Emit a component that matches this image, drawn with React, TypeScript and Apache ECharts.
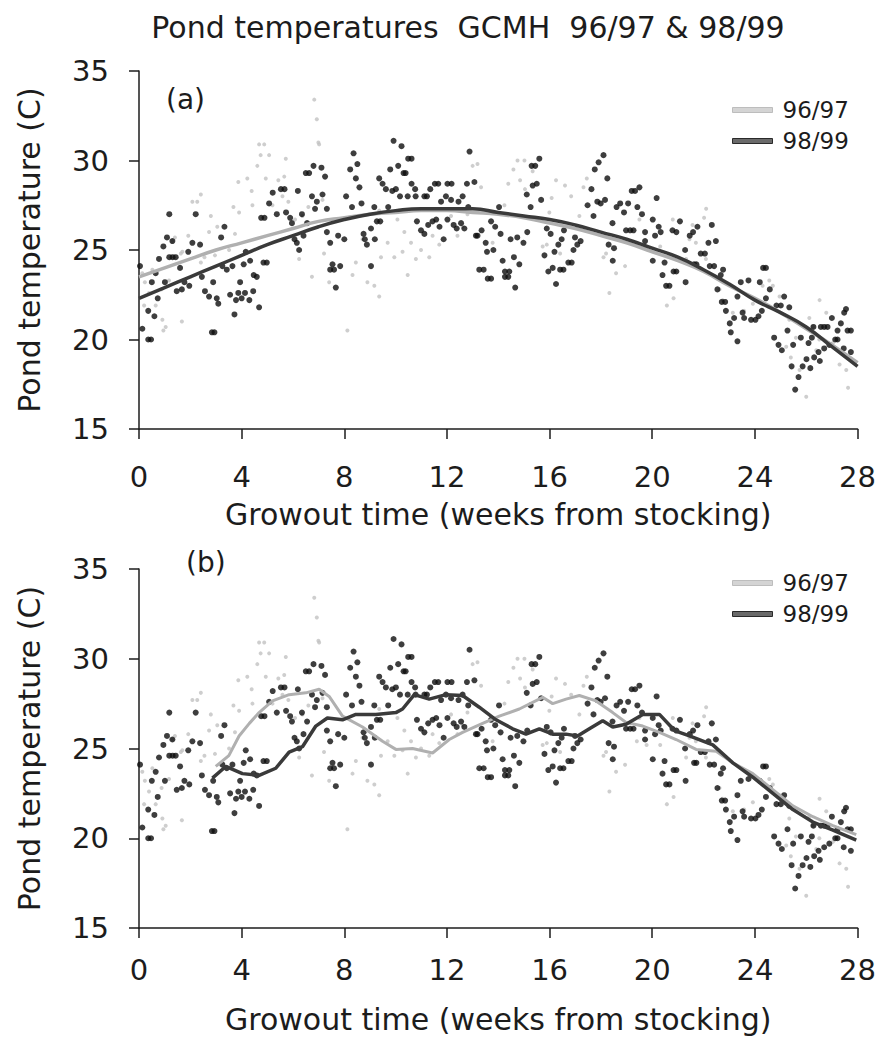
import React, { useEffect, useRef } from "react";
import * as echarts from "echarts";

const FONT = '"DejaVu Sans", sans-serif';
const INK = "#1c1c1c";

// Axis ticks
const weekTicks = [0, 4, 8, 12, 16, 20, 24, 28];
const tempTicks = [15, 20, 25, 30, 35];

// Daily observations, 98/99 season: [week, temperature °C]
const obs9899: [number, number][] = [
  [0.04, 24.1], [0.13, 20.6], [0.36, 21.6], [0.36, 20.0], [0.47, 20.0], [0.5, 23.2], [0.6, 21.3], [0.65, 23.7],
  [0.73, 22.3], [0.78, 24.5], [0.95, 25.2], [1.01, 23.2], [1.09, 25.7], [1.18, 27.0], [1.18, 24.6], [1.3, 25.5],
  [1.31, 24.6], [1.43, 24.6], [1.47, 22.7], [1.6, 24.0], [1.67, 22.8], [1.77, 23.2], [1.92, 24.9], [1.96, 23.0],
  [2.08, 25.4], [2.21, 27.0], [2.38, 25.3], [2.45, 23.5], [2.57, 22.7], [2.73, 22.4], [2.84, 20.4], [2.89, 23.2],
  [2.94, 20.4], [3.03, 22.3], [3.09, 22.0], [3.2, 25.7], [3.25, 24.1], [3.33, 26.3], [3.42, 23.9], [3.55, 22.5],
  [3.64, 24.1], [3.72, 21.4], [3.78, 22.2], [3.87, 22.6], [3.94, 23.2], [4.0, 22.3], [4.08, 24.2], [4.13, 22.6],
  [4.16, 24.9], [4.3, 22.2], [4.33, 24.4], [4.45, 22.7], [4.47, 23.6], [4.59, 23.5], [4.68, 21.8], [4.76, 26.8],
  [4.85, 24.3], [4.89, 26.8], [4.98, 24.3], [5.07, 27.6], [5.21, 28.2], [5.37, 27.0], [5.53, 28.4], [5.67, 28.4],
  [5.73, 27.1], [5.89, 26.8], [5.96, 26.5], [6.06, 25.6], [6.15, 25.4], [6.19, 28.3], [6.24, 25.0], [6.35, 27.0],
  [6.41, 25.8], [6.5, 29.3], [6.55, 26.5], [6.63, 29.3], [6.74, 28.0], [6.8, 29.7], [6.86, 27.3], [6.93, 27.7],
  [7.11, 29.6], [7.15, 28.1], [7.25, 29.1], [7.32, 27.3], [7.32, 26.0], [7.45, 25.4], [7.45, 23.9], [7.54, 24.2],
  [7.6, 23.9], [7.67, 22.9], [7.76, 25.8], [7.84, 24.1], [8.0, 25.6], [8.07, 28.0], [8.23, 29.5], [8.3, 27.4],
  [8.36, 30.4], [8.45, 29.0], [8.51, 29.8], [8.59, 28.5], [8.67, 27.6], [8.75, 25.9], [8.8, 25.6], [8.88, 25.3],
  [9.04, 26.2], [9.04, 24.1], [9.17, 27.4], [9.19, 25.6], [9.27, 26.6], [9.36, 29.0], [9.4, 26.6], [9.49, 28.7],
  [9.62, 28.4], [9.71, 27.4], [9.79, 29.5], [9.87, 28.3], [9.92, 31.1], [10.01, 28.4], [10.1, 29.7], [10.17, 28.0],
  [10.23, 30.8], [10.31, 29.3], [10.39, 29.3], [10.47, 28.0], [10.49, 30.1], [10.62, 30.1], [10.62, 28.7], [10.76, 28.4],
  [10.78, 28.0], [10.83, 26.6], [10.99, 26.1], [11.12, 28.0], [11.12, 25.9], [11.22, 28.0], [11.27, 26.4], [11.35, 28.4],
  [11.44, 26.6], [11.53, 28.7], [11.58, 26.7], [11.66, 28.7], [11.71, 26.3], [11.77, 27.7], [11.87, 25.6], [11.96, 28.0],
  [12.02, 26.7], [12.02, 28.7], [12.16, 27.8], [12.18, 28.7], [12.26, 26.4], [12.38, 26.2], [12.45, 27.7], [12.55, 26.5],
  [12.61, 28.0], [12.68, 26.2], [12.78, 28.7], [12.83, 27.4], [12.88, 30.5], [13.07, 28.8], [13.13, 25.8], [13.19, 25.8],
  [13.26, 23.9], [13.35, 26.1], [13.43, 23.9], [13.51, 25.4], [13.56, 24.9], [13.59, 23.4], [13.72, 23.4], [13.72, 26.6],
  [13.81, 25.0], [13.88, 26.3], [14.03, 27.4], [14.09, 25.9], [14.17, 24.4], [14.26, 23.8], [14.26, 23.5], [14.39, 23.5],
  [14.43, 23.8], [14.48, 25.6], [14.61, 24.6], [14.66, 22.9], [14.74, 25.7], [14.82, 24.2], [14.98, 25.4], [15.11, 28.1],
  [15.13, 26.0], [15.26, 27.4], [15.3, 29.7], [15.34, 28.6], [15.44, 29.7], [15.5, 28.7], [15.6, 30.1], [15.67, 27.8],
  [15.8, 24.7], [15.89, 26.2], [15.95, 23.8], [16.04, 25.9], [16.12, 24.0], [16.19, 24.9], [16.25, 23.1], [16.34, 25.3],
  [16.41, 23.9], [16.47, 25.6], [16.54, 23.9], [16.56, 26.1], [16.73, 24.3], [16.86, 24.3], [16.93, 25.0], [16.99, 25.7],
  [17.08, 25.3], [17.21, 25.5], [17.48, 27.5], [17.63, 28.4], [17.71, 26.9], [17.76, 29.5], [17.86, 27.7], [17.91, 29.9],
  [17.99, 27.6], [18.1, 30.3], [18.16, 27.8], [18.25, 29.0], [18.3, 25.3], [18.45, 26.5], [18.46, 24.4], [18.51, 25.1],
  [18.61, 27.4], [18.75, 27.6], [18.9, 27.1], [18.98, 26.1], [19.06, 27.6], [19.14, 26.1], [19.2, 28.3], [19.27, 26.1],
  [19.33, 28.3], [19.42, 27.4], [19.5, 28.5], [19.6, 27.0], [19.72, 26.0], [19.72, 25.5], [20.02, 26.7], [20.02, 24.4],
  [20.11, 25.8], [20.17, 27.9], [20.25, 26.3], [20.33, 26.0], [20.4, 23.6], [20.48, 24.3], [20.54, 23.0], [20.67, 23.0],
  [20.79, 26.1], [20.83, 23.8], [20.94, 26.0], [20.94, 23.8], [21.08, 26.6], [21.28, 25.0], [21.3, 23.2], [21.46, 25.8],
  [21.59, 26.0], [21.63, 24.2], [21.72, 24.2], [21.76, 26.3], [21.89, 24.8], [22.05, 24.8], [22.19, 25.4], [22.24, 24.1],
  [22.32, 26.4], [22.41, 24.1], [22.48, 25.5], [22.54, 22.8], [22.67, 23.6], [22.71, 22.1], [22.76, 23.9], [22.84, 22.1],
  [22.87, 21.6], [23.02, 20.9], [23.06, 20.4], [23.19, 21.2], [23.32, 19.9], [23.32, 22.4], [23.45, 23.2], [23.52, 21.5],
  [23.58, 21.2], [23.75, 23.3], [23.85, 21.1], [24.02, 21.1], [24.14, 21.3], [24.19, 23.2], [24.27, 21.6], [24.32, 24.0],
  [24.43, 24.0], [24.43, 22.3], [24.58, 22.8], [24.75, 20.1], [24.84, 21.9], [24.92, 19.7], [25.01, 21.9], [25.05, 19.4],
  [25.14, 22.4], [25.27, 20.5], [25.34, 21.8], [25.43, 18.5], [25.49, 19.7], [25.57, 17.2], [25.7, 17.9], [25.79, 20.1],
  [25.86, 18.5], [26.01, 18.9], [26.09, 19.8], [26.16, 18.4], [26.22, 20.1], [26.28, 20.7], [26.31, 19.0], [26.48, 19.3],
  [26.53, 18.8], [26.57, 20.7], [26.7, 20.7], [26.7, 19.5], [26.83, 20.7], [26.9, 19.7], [27.0, 21.2], [27.13, 20.0],
  [27.22, 20.0], [27.22, 20.5], [27.35, 20.9], [27.46, 19.5], [27.48, 21.5], [27.55, 21.7], [27.61, 20.5], [27.74, 20.5],
  [27.74, 19.3],
];

// Daily observations, 96/97 season: [week, temperature °C]
const obs9697: [number, number][] = [
  [0.13, 23.7], [0.2, 21.9], [0.23, 23.2], [0.39, 22.6], [0.52, 23.9], [0.65, 21.9], [0.88, 22.8], [0.91, 21.1],
  [0.95, 20.5], [1.04, 20.7], [1.17, 23.3], [1.3, 25.5], [1.4, 25.7], [1.63, 24.8], [1.67, 21.0], [1.69, 24.9],
  [1.92, 25.8], [2.08, 27.7], [2.27, 27.7], [2.41, 28.1], [2.41, 24.3], [2.55, 24.6], [2.73, 26.0], [2.8, 26.9],
  [2.96, 24.7], [3.05, 26.3], [3.51, 25.0], [3.68, 27.4], [3.74, 25.9], [3.87, 28.8], [3.9, 27.1], [4.22, 29.0],
  [4.39, 28.3], [4.42, 27.5], [4.61, 29.7], [4.68, 30.9], [4.74, 30.3], [4.88, 30.9], [4.94, 29.0], [5.07, 30.3],
  [5.2, 27.5], [5.43, 28.9], [5.59, 28.0], [5.66, 29.1], [5.72, 30.1], [5.82, 27.7], [6.08, 26.7], [6.24, 24.5],
  [6.37, 26.9], [6.6, 27.4], [6.74, 23.5], [6.83, 33.4], [6.93, 32.3], [6.99, 31.0], [7.02, 30.9], [7.15, 27.8],
  [7.21, 24.8], [7.41, 23.2], [8.12, 20.5], [8.32, 23.6], [8.45, 24.3], [8.71, 25.6], [8.9, 23.2], [9.17, 23.0],
  [9.36, 22.4], [9.36, 27.2], [9.43, 24.6], [9.69, 25.4], [9.95, 24.6], [10.07, 26.7], [10.27, 24.9], [10.34, 26.0],
  [10.47, 23.6], [10.6, 25.4], [10.79, 24.5], [10.99, 25.0], [11.31, 24.6], [11.44, 25.8], [11.7, 25.3], [12.16, 26.9],
  [12.41, 25.8], [12.61, 26.3], [12.8, 27.0], [13.0, 29.7], [13.19, 29.8], [13.33, 28.5], [13.78, 25.4], [14.24, 27.5],
  [14.39, 28.7], [14.59, 29.5], [14.75, 30.0], [14.85, 28.9], [15.02, 30.0], [15.04, 28.4], [15.34, 29.4], [15.73, 25.2],
  [15.89, 25.3], [15.99, 27.1], [16.08, 27.9], [16.25, 28.9], [16.41, 24.8], [16.6, 28.6], [16.84, 28.0], [17.16, 26.9],
  [17.32, 28.5], [17.45, 29.0], [18.1, 24.6], [18.2, 24.8], [18.33, 22.6], [18.59, 23.7], [18.94, 24.1], [19.4, 25.4],
  [19.5, 26.7], [19.78, 25.2], [20.31, 25.2], [20.57, 21.9], [20.8, 26.7], [20.83, 22.3], [21.32, 24.5], [21.45, 25.6],
  [21.57, 26.4], [21.7, 25.4], [22.02, 26.8], [22.1, 27.3], [22.09, 24.5], [22.62, 22.8], [22.74, 22.2], [23.14, 21.5],
  [23.58, 21.6], [23.92, 22.0], [24.3, 23.0], [24.56, 23.3], [24.7, 23.0], [24.96, 22.4], [25.22, 19.6], [25.34, 21.1],
  [25.4, 19.0], [25.6, 20.1], [25.74, 18.3], [26.0, 16.8], [26.12, 21.2], [26.26, 20.7], [26.39, 19.4], [26.51, 20.0],
  [26.52, 22.2], [26.78, 21.5], [27.04, 19.8], [27.3, 18.6], [27.56, 18.3], [27.63, 17.3],
];

// (a) fitted trend, read at whole weeks
const fitWeeks = [0, 1, 2, 3, 4, 5, 6, 7, 8, 9, 10, 11, 12, 13, 14, 15, 16, 17, 18, 19, 20, 21, 22, 23, 24, 25, 26, 27, 28];
const fit9697 = [23.5, 24.0, 24.5, 25.0, 25.4, 25.8, 26.2, 26.6, 26.8, 27.0, 27.1, 27.2, 27.2, 27.1, 27.0, 26.8, 26.5, 26.2, 25.8, 25.4, 24.9, 24.4, 23.8, 23.0, 22.3, 21.5, 20.6, 19.7, 18.7];
const fit9899 = [22.3, 22.9, 23.5, 24.1, 24.7, 25.3, 25.8, 26.3, 26.7, 27.0, 27.2, 27.3, 27.3, 27.3, 27.1, 26.9, 26.7, 26.4, 26.0, 25.6, 25.1, 24.6, 23.9, 23.1, 22.2, 21.5, 20.7, 19.6, 18.5];

// (b) moving averages: [week, temperature °C]
const ma9697: [number, number][] = [
  [2.99, 24.0], [3.5, 24.6], [3.9, 25.7], [4.3, 26.4], [4.68, 27.0], [5.2, 27.65], [5.85, 28.0], [6.5, 28.1],
  [7.02, 28.3], [7.41, 27.9], [7.93, 26.8], [8.71, 26.2], [9.49, 25.4], [10.01, 24.95], [10.66, 25.0], [11.44, 24.75],
  [12.09, 25.5], [12.61, 25.9], [13.39, 26.4], [14.04, 26.8], [14.82, 27.2], [15.73, 27.85], [16.12, 27.5], [16.64, 27.75],
  [17.16, 27.95], [17.81, 27.65], [18.46, 27.0], [18.98, 26.45], [19.63, 26.25], [20.28, 25.9], [20.93, 25.5], [21.71, 24.95],
  [22.49, 24.85], [23.14, 24.2], [23.92, 23.6], [24.7, 22.7], [25.48, 21.8], [26.26, 21.2], [27.04, 20.7], [27.95, 20.2],
];
const ma9899: [number, number][] = [
  [2.86, 23.35], [3.38, 24.0], [4.03, 23.6], [4.68, 23.5], [5.33, 23.9], [5.85, 24.8], [6.37, 25.1], [6.89, 26.25],
  [7.34, 26.7], [7.93, 26.6], [8.45, 26.9], [9.23, 26.9], [10.01, 27.0], [10.27, 27.2], [10.73, 28.0], [11.31, 27.75],
  [11.96, 28.0], [12.61, 27.95], [13.26, 27.3], [13.91, 26.6], [14.56, 26.1], [15.08, 25.8], [15.6, 26.1], [16.12, 25.8],
  [16.64, 25.8], [17.09, 25.7], [17.55, 26.1], [18.07, 26.55], [18.46, 26.2], [18.98, 26.35], [19.63, 26.9], [20.28, 26.9],
  [20.87, 26.0], [21.45, 25.7], [22.36, 25.2], [23.14, 24.2], [23.92, 23.4], [24.7, 22.5], [25.48, 21.6], [26.26, 20.9],
  [27.04, 20.45], [27.95, 19.9],
];

const seasons = ["96/97", "98/99"];
const chartTitle = "Pond temperatures  GCMH  96/97 & 98/99";
const xTitle = "Growout time (weeks from stocking)";
const yTitle = "Pond temperature (C)";

const GRAY = "#c2c2c2";
const GRAY_LINE = "#b0b0b0";
const DARK_LINE = "#3a3a3a";

export default function App() {
  const ref = useRef<HTMLDivElement>(null);
  useEffect(() => {
    if (!ref.current) return;
    const chart = echarts.init(ref.current, undefined, { renderer: "svg" });
    const axisLineStyle = { color: INK, width: 1.5 };
    const grids = [
      { left: 139, top: 71, width: 719, height: 358 },
      { left: 139, top: 569, width: 719, height: 359 },
    ];
    const xNameGap = [70, 76];
    const xLabelMargin = [33, 27];
    const xAxis = grids.map((_, i) => ({
      gridIndex: i,
      type: "value",
      min: weekTicks[0],
      max: weekTicks[weekTicks.length - 1],
      interval: 4,
      axisLine: { show: true, lineStyle: axisLineStyle },
      axisTick: { show: true, length: 10, lineStyle: axisLineStyle },
      axisLabel: { fontSize: 29, margin: xLabelMargin[i], color: INK, fontFamily: FONT },
      splitLine: { show: false },
      name: xTitle,
      nameLocation: "middle",
      nameGap: xNameGap[i],
      nameTextStyle: { fontSize: 30, color: INK, fontFamily: FONT },
    }));
    const yAxis = grids.map((_, i) => ({
      gridIndex: i,
      type: "value",
      min: tempTicks[0],
      max: tempTicks[tempTicks.length - 1],
      interval: 5,
      axisLine: { show: true, lineStyle: axisLineStyle },
      axisTick: { show: true, length: 10, lineStyle: axisLineStyle },
      axisLabel: { fontSize: 29, margin: 30, color: INK, fontFamily: FONT },
      splitLine: { show: false },
      name: yTitle,
      nameLocation: "middle",
      nameGap: 95,
      nameRotate: 90,
      nameTextStyle: { fontSize: 30, color: INK, fontFamily: FONT },
    }));
    const legendTops = [93, 566];
    const legend = legendTops.map((top) => ({
      orient: "vertical",
      left: 727,
      top,
      itemWidth: 40,
      itemHeight: 5,
      itemGap: 7,
      selectedMode: false,
      textStyle: { fontSize: 23, lineHeight: 24, color: INK, fontFamily: FONT, padding: [0, 0, 0, 5] },
      data: [
        { name: seasons[0], icon: "rect", itemStyle: { color: "#d4d4d4", borderColor: "#bdbdbd", borderWidth: 1 } },
        { name: seasons[1], icon: "rect", itemStyle: { color: "#6a6a6a", borderColor: "#2a2a2a", borderWidth: 1 } },
      ],
    }));
    const scatterFor = (gi: number) => [
      {
        name: seasons[0] + " obs",
        type: "scatter",
        xAxisIndex: gi,
        yAxisIndex: gi,
        data: obs9697,
        symbol: "circle",
        symbolSize: 4,
        itemStyle: { color: GRAY },
        z: 2,
      },
      {
        name: seasons[1] + " obs",
        type: "scatter",
        xAxisIndex: gi,
        yAxisIndex: gi,
        data: obs9899,
        symbol: "circle",
        symbolSize: 6,
        itemStyle: { color: "#0e0e0e" },
        z: 3,
      },
    ];
    const series = [
      ...scatterFor(0),
      {
        name: seasons[0],
        type: "line",
        xAxisIndex: 0,
        yAxisIndex: 0,
        data: fitWeeks.map((w, i) => [w, fit9697[i]]),
        smooth: true,
        showSymbol: false,
        lineStyle: { color: GRAY_LINE, width: 3.5 },
        itemStyle: { color: GRAY_LINE },
        z: 4,
      },
      {
        name: seasons[1],
        type: "line",
        xAxisIndex: 0,
        yAxisIndex: 0,
        data: fitWeeks.map((w, i) => [w, fit9899[i]]),
        smooth: true,
        showSymbol: false,
        lineStyle: { color: DARK_LINE, width: 3.5 },
        itemStyle: { color: DARK_LINE },
        z: 5,
      },
      ...scatterFor(1),
      {
        name: seasons[0],
        type: "line",
        xAxisIndex: 1,
        yAxisIndex: 1,
        data: ma9697,
        showSymbol: false,
        lineStyle: { color: GRAY_LINE, width: 3 },
        itemStyle: { color: GRAY_LINE },
        z: 4,
      },
      {
        name: seasons[1],
        type: "line",
        xAxisIndex: 1,
        yAxisIndex: 1,
        data: ma9899,
        showSymbol: false,
        lineStyle: { color: DARK_LINE, width: 3.5 },
        itemStyle: { color: DARK_LINE },
        z: 5,
      },
    ];
    chart.setOption({
      animation: false,
      backgroundColor: "#ffffff",
      grid: grids,
      xAxis,
      yAxis,
      legend,
      graphic: [
        {
          type: "text",
          x: 468,
          y: 27,
          style: { text: chartTitle, fontSize: 30, fontFamily: FONT, fill: INK, textAlign: "center", textVerticalAlign: "middle" },
        },
        {
          type: "text",
          x: 166,
          y: 99,
          style: { text: "(a)", fontSize: 28, fontFamily: FONT, fill: INK, textAlign: "left", textVerticalAlign: "middle" },
        },
        {
          type: "text",
          x: 186,
          y: 562,
          style: { text: "(b)", fontSize: 28, fontFamily: FONT, fill: INK, textAlign: "left", textVerticalAlign: "middle" },
        },
      ],
      series,
    });
    return () => chart.dispose();
  }, []);
  return <div ref={ref} style={{ position: "absolute", left: 0, top: 0, width: 879, height: 1052, background: "#fff" }} />;
}
